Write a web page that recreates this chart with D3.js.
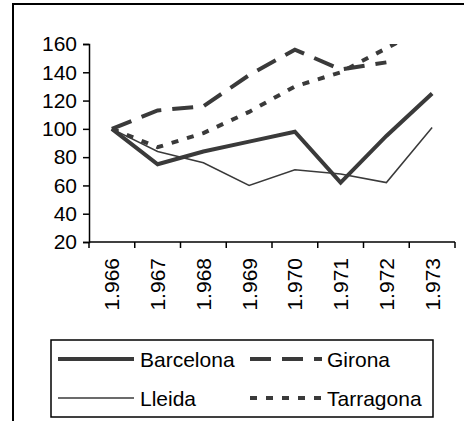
<!DOCTYPE html>
<html>
<head>
<meta charset="utf-8">
<script src="https://cdn.jsdelivr.net/npm/d3@7"></script>
<style>
  body { margin: 0; background: #fff; }
  text { font-family: "Liberation Sans", Arial, sans-serif; }
</style>
</head>
<body>
<div id="chart"></div>
<script>
// Data
const years = ["1.966", "1.967", "1.968", "1.969", "1.970", "1.971", "1.972", "1.973"];
const barcelona = [100, 75, 84, 91, 98, 62, 95, 125];
const girona = [100, 113, 116, 138, 156, 142, 147, null];
const lleida = [100, 84, 76, 60, 71, 68, 62, 101];
const tarragona = [100, 87, 97, 112, 130, 140, 157, 174];
const yTicks = [20, 40, 60, 80, 100, 120, 140, 160];

const series = [
  { name: "Barcelona", values: barcelona, width: 4, dash: null },
  { name: "Girona", values: girona, width: 4, dash: "21 11" },
  { name: "Lleida", values: lleida, width: 1.5, dash: null },
  { name: "Tarragona", values: tarragona, width: 4, dash: "7 9" }
];

const W = 464, H = 421;
const ink = "#3a3a3a";

const svg = d3.select("#chart")
  .append("svg")
  .attr("width", W)
  .attr("height", H);

// Outer frame (runs off the right and bottom edges)
svg.append("rect")
  .attr("x", 13).attr("y", 4)
  .attr("width", W + 20).attr("height", H + 20)
  .attr("fill", "none")
  .attr("stroke", "#000")
  .attr("stroke-width", 2);

// Scales
const x = d3.scaleBand().domain(years).range([89, 455]).padding(0);
const y = d3.scaleLinear().domain([20, 160]).range([242, 44]);

// clip lines to the plot area, values above 160 get cut
svg.append("clipPath").attr("id", "plot")
  .append("rect")
  .attr("x", 89).attr("y", y(160))
  .attr("width", 366).attr("height", y(20) - y(160));

// Y axis
const yAxis = svg.append("g")
  .attr("transform", "translate(89,0)")
  .call(d3.axisLeft(y).tickValues(yTicks).tickSize(6).tickPadding(6).tickFormat(d3.format("d")));
yAxis.selectAll("text").style("font-size", "21px").attr("fill", "#000");
yAxis.selectAll("line").attr("stroke", "#000").attr("stroke-width", 1.5);
yAxis.select(".domain").attr("stroke", "#000").attr("stroke-width", 1.5);

// X axis: ticks at band boundaries
const xAxis = svg.append("g").attr("transform", "translate(0,242)");
xAxis.append("line")
  .attr("x1", 89).attr("x2", 455)
  .attr("stroke", "#000").attr("stroke-width", 1.5);
xAxis.selectAll(".bt")
  .data(years.concat(["end"]))
  .enter().append("line")
  .attr("class", "bt")
  .attr("x1", (d, i) => i < years.length ? x(d) : x.range()[1])
  .attr("x2", (d, i) => i < years.length ? x(d) : x.range()[1])
  .attr("y1", 0).attr("y2", 6)
  .attr("stroke", "#000").attr("stroke-width", 1.5);
xAxis.selectAll(".lbl")
  .data(years)
  .enter().append("text")
  .attr("class", "lbl")
  .attr("transform", d => `translate(${x(d) + x.bandwidth() / 2 + 7.5},16) rotate(-90)`)
  .attr("text-anchor", "end")
  .style("font-size", "21px")
  .attr("fill", "#000")
  .text(d => d);

// Lines
const line = d3.line()
  .defined(d => d.v != null)
  .x(d => x(d.year) + x.bandwidth() / 2)
  .y(d => y(d.v));

series.forEach(s => {
  svg.append("path")
    .datum(years.map((yr, i) => ({ year: yr, v: s.values[i] })))
    .attr("d", line)
    .attr("clip-path", "url(#plot)")
    .attr("fill", "none")
    .attr("stroke", ink)
    .attr("stroke-width", s.width)
    .attr("stroke-dasharray", s.dash)
    .attr("stroke-linejoin", "miter");
});

// Legend
const legend = svg.append("g");
legend.append("rect")
  .attr("x", 51).attr("y", 340)
  .attr("width", 382).attr("height", 77)
  .attr("fill", "#fff")
  .attr("stroke", "#000")
  .attr("stroke-width", 1.5);

const legendPos = [
  { x: 58, y: 359 },
  { x: 250, y: 359 },
  { x: 58, y: 398 },
  { x: 250, y: 398 }
];

series.forEach((s, i) => {
  const p = legendPos[i];
  legend.append("line")
    .attr("x1", p.x).attr("x2", p.x + (i % 2 ? 72 : 76))
    .attr("y1", p.y).attr("y2", p.y)
    .attr("stroke", ink)
    .attr("stroke-width", s.width)
    .attr("stroke-dasharray", s.dash);
  legend.append("text")
    .attr("x", p.x + (i % 2 ? 77 : 82))
    .attr("y", p.y + 7.5)
    .style("font-size", "21px")
    .attr("fill", "#000")
    .text(s.name);
});
</script>
</body>
</html>
